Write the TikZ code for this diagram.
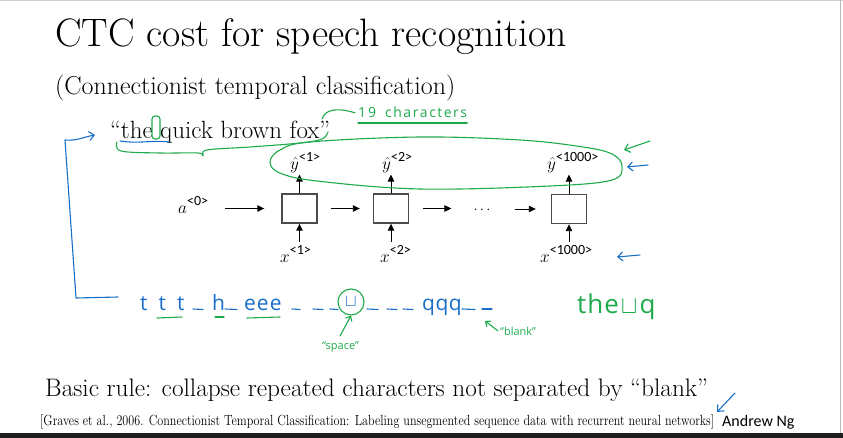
\documentclass[tikz,border=0pt]{standalone}
\usepackage{fontspec}
\usepackage{graphicx}
\usetikzlibrary{arrows.meta}
\newfontfamily\calfont{Carlito}
\newfontfamily\handfont{Open Sans}
\definecolor{pengreen}{RGB}{30,170,75}
\definecolor{penblue}{RGB}{25,110,200}
\definecolor{boxgray}{RGB}{75,75,75}
\newcommand{\yhat}[1]{{\fontsize{18}{18}\selectfont$\hat{y}$}\raisebox{8pt}{\calfont\fontsize{14}{14}\selectfont<#1>}}
\newcommand{\xin}[1]{{\fontsize{18}{18}\selectfont$x$}\raisebox{8pt}{\calfont\fontsize{14}{14}\selectfont<#1>}}
\begin{document}
\begin{tikzpicture}[x=1pt,y=-1pt,
  cell/.style={draw=boxgray, line width=1.4pt, minimum width=35pt, minimum height=29pt, inner sep=0},
  arr/.style={line width=0.9pt, -{Triangle[length=7pt,width=6.5pt]}},
  gpen/.style={draw=pengreen, line width=1.1pt, line cap=round, line join=round},
  bpen/.style={draw=penblue, line width=1.1pt, line cap=round, line join=round},
  txt/.style={inner sep=0, anchor=base west},
  gtxt/.style={txt, text=pengreen, font=\handfont},
  btxt/.style={txt, text=penblue, font=\handfont},
  barb/.style={-{Straight Barb[length=5pt,width=9pt]}}]
\useasboundingbox (0,0) rectangle (843,438);
% slide frame
\draw[gray!35, line width=1pt] (0,0.5) -- (843,0.5);
\draw[gray!55, line width=1.5pt] (840.5,0) -- (840.5,433);
\fill[black!88] (0,432.5) rectangle (843,438);

% texts
\node[txt] (title) at (55,47) {\resizebox{512pt}{!}{\fontsize{36}{40}\selectfont CTC cost for speech recognition}};
\node[txt] (sub) at (55,95) {\resizebox{400pt}{!}{\fontsize{20}{24}\selectfont (Connectionist temporal classification)}};
\node[txt] (quote) at (110,139) {\resizebox{220pt}{!}{\fontsize{20}{24}\selectfont “the quick brown fox”}};
\node[txt] (rule) at (45,396) {\resizebox{663pt}{!}{\fontsize{22}{26}\selectfont Basic rule: collapse repeated characters not separated by “blank”}};
\node[txt] (cite) at (40,425) {\resizebox{674pt}{11pt}{\fontsize{12}{14}\selectfont [Graves et al., 2006. Connectionist Temporal Classification: Labeling unsegmented sequence data with recurrent neural networks]}};
\node[txt] (ng) at (722,426) {\calfont\fontsize{16}{16}\selectfont Andrew Ng};

% RNN
\node[cell] (b1) at (299.5,208.5) {};
\node[cell] (b2) at (391,208.5) {};
\node[cell] (b3) at (569,209) {};
\node[txt] (a0) at (178,214) {{\fontsize{18}{18}\selectfont$a$}\raisebox{8pt}{\calfont\fontsize{14}{14}\selectfont<0>}};
\node[inner sep=0] (dots) at (482,210) {\fontsize{15}{15}\selectfont$\cdots$};
\node[txt] (y1) at (290,170) {\yhat{1}};
\node[txt] (y2) at (382,170) {\yhat{2}};
\node[txt] (y3) at (547,170) {\yhat{1000}};
\node[txt] (x1) at (280,262) {\xin{1}};
\node[txt] (x2) at (380,262) {\xin{2}};
\node[txt] (x3) at (540,262) {\xin{1000}};

\draw[arr] ([xshift=17pt]a0.east |- b1.west) -- ([xshift=-17pt]b1.west);
\draw[arr] ([xshift=13pt]b1.east) -- ([xshift=-13pt]b2.west);
\draw[arr] ([xshift=14pt]b2.east) -- ([xshift=-22pt]dots.west |- b2.west);
\draw[arr] ([xshift=24pt]dots.east |- b3.west) -- ([xshift=-15pt]b3.west);
\foreach \b/\y in {b1/y1,b2/y2,b3/y3}{
  \draw[arr, shorten >=1pt] (\b.north) -- (\b.north |- \y.south);
}
\foreach \b/\x in {b1/x1,b2/x2,b3/x3}{
  \draw[arr] ([yshift=3pt]\b.south |- \x.north) -- (\b.south);
}

% green annotations on the top
\draw[gpen] plot[smooth cycle, tension=0.6] coordinates {(270,162) (280,150) (310,142) (420,137) (520,140) (583,147) (612,154) (622,166) (612,180) (550,186) (420,189) (317,181) (280,173)};
\node[draw=pengreen, line width=1.1pt, rounded corners=3pt, minimum width=8pt, minimum height=23pt, inner sep=0] (gap) at (156,127.5) {};
\draw[gpen] plot[smooth, tension=0.6] coordinates {(117,142) (121,151) (160,153) (198,153) (203,156) (207,150) (250,147) (300,143) (322,139) (328,132)};
\node[gtxt] (chars) at (358,118) {\fontsize{14}{14}\selectfont 1\kern2pt 9\kern9pt c\kern1.5pt h\kern1.5pt a\kern1.5pt r\kern1.5pt a\kern1.5pt c\kern1.5pt t\kern1.5pt e\kern1.5pt r\kern1.5pt s};
\draw[gpen] (322,119) .. controls (325,110) and (335,107) .. ([xshift=-3pt]chars.west);
\draw[gpen] ([yshift=-5pt]chars.base west) -- ([yshift=-5pt]chars.base east);

% blue annotations at the top
\draw[bpen] (120,141) .. controls (140,144) and (150,140) .. (170,142);
\coordinate (brA) at (95,135);
\coordinate (brB) at (65,140);
\coordinate (brC) at (76,298);
\coordinate (brD) at (118,297);
\draw[bpen, barb] (brD) -- (brC) -- (brB) to[out=-5,in=190] (brA);

% arrows on the right
\coordinate (gA0) at (650,141); \coordinate (gA1) at (624,150);
\draw[gpen, barb] (gA0) -- (gA1);
\coordinate (bA0) at (648,165); \coordinate (bA1) at (627,167);
\draw[bpen, barb] (bA0) -- (bA1);
\coordinate (bB0) at (640,255); \coordinate (bB1) at (617,257);
\draw[bpen, barb] (bB0) -- (bB1);
\coordinate (bC0) at (735,393); \coordinate (bC1) at (717,412);
\draw[bpen, barb] (bC0) -- (bC1);

% handwritten blue sequence
\node[btxt] (ttt) at (140,310) {\fontsize{21}{21}\selectfont t\kern11pt t\kern11pt t};
\node[btxt] (hh) at (212,310) {\fontsize{21}{21}\selectfont h};
\node[btxt] (eee) at (244,310) {\fontsize{21}{21}\selectfont e\kern1pt e\kern1pt e};
\node[btxt] (qqq) at (422,310) {\fontsize{21}{21}\selectfont q\kern0.5pt q\kern0.5pt q};
\node[circle, draw=pengreen, line width=1.1pt, text=penblue, minimum size=26pt, inner sep=0] (spc) at (351,302) {\fontsize{16}{16}\selectfont$\sqcup$};
\foreach \a/\b in {193/203, 225/237, 292/300, 313/323, 330/338, 367/378, 387/397, 403/413, 462/475}{
  \draw[bpen] (\a,309) -- (\b,309.5);
}
\coordinate (blkA) at (482,309);
\coordinate (blkB) at (492,309);
\draw[bpen] (blkA) -- (blkB);

% green underlines
\draw[gpen] (157,318) -- (182,317);
\draw[gpen] (215,317) -- (224,317);
\draw[gpen] (247,318) -- (280,317);

% space and blank labels
\node[gtxt] (spacelbl) at (322,349) {\fontsize{11}{11}\selectfont “space”};
\draw[gpen, -{Straight Barb[length=4pt,width=7pt]}] (340,336) -- (spc.south);
\node[gtxt] (blanklbl) at (500,335) {\fontsize{11}{11}\selectfont “blank”};
\draw[gpen, -{Straight Barb[length=4pt,width=7pt]}] ([xshift=-2pt]blanklbl.west) -- ([xshift=3pt,yshift=-12pt]blkA);

% result
\node[gtxt] (res) at (577,313) {\fontsize{26}{26}\selectfont t\kern1pt h\kern1pt e\kern2pt$\sqcup$\kern2pt q};
\end{tikzpicture}
\end{document}
